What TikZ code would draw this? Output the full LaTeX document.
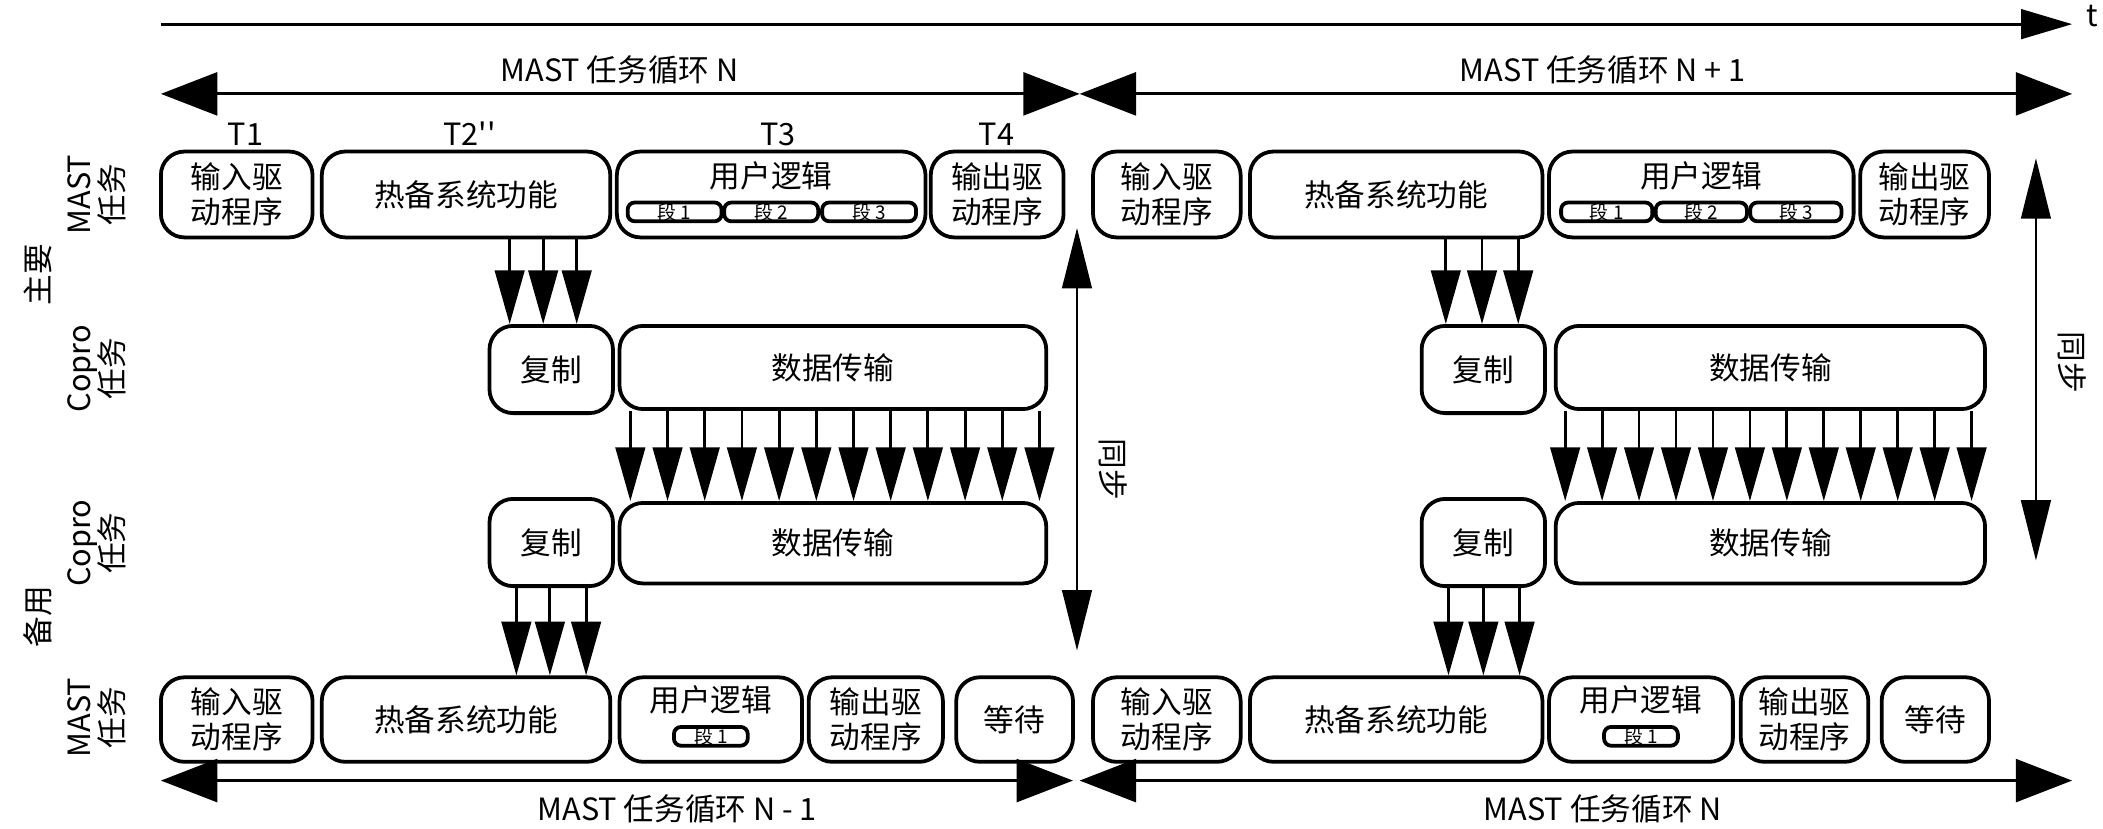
\documentclass[tikz,border=0pt]{standalone}
\usepackage{fontspec}
\setmainfont{Liberation Sans}
\newfontfamily\cjk{Noto Sans CJK SC}
\usetikzlibrary{arrows.meta}

\tikzset{
  box/.style={rectangle, draw=black, thick, rounded corners=5pt, align=center, inner sep=0pt, minimum height=0.64cm},
  seg/.style={rectangle, draw=black, thick, rounded corners=1.5pt, inner sep=0pt, minimum height=0.14cm, font=\fontsize{4}{4}\selectfont\cjk},
  dn/.style={-{Triangle[width=0.22cm,length=0.4cm]}, semithick},
  cyc/.style={{Triangle[width=0.32cm,length=0.42cm]}-{Triangle[width=0.32cm,length=0.42cm]}, semithick},
  sync/.style={{Triangle[width=0.22cm,length=0.45cm]}-{Triangle[width=0.22cm,length=0.45cm]}, semithick},
  side/.style={rotate=90, align=center, font=\fontsize{6.5}{7}\selectfont\cjk},
}

\begin{document}
\begin{tikzpicture}[x=0.01cm, y=-0.01cm, font=\fontsize{6.5}{7.5}\selectfont\cjk]
\useasboundingbox (0,0) rectangle (1568,618);

%%% time axis
\coordinate (t0) at (120,18);
\coordinate (t1) at (1545,18);
\draw [-{Triangle[width=0.22cm,length=0.38cm]}, semithick] (t0) -- (t1);
\node (t-lab) at (1560,12) {\fontsize{6.5}{7}\selectfont t};

%%% cycle arrows top
\coordinate (ctl) at (120,70); \coordinate (ctm) at (805,70); \coordinate (ctr) at (1545,70);
\draw [cyc] (ctl) -- (ctm);
\draw [cyc] (ctm) -- (ctr);
\node (cyc-n) at (462,52) {MAST 任务循环 N};
\node (cyc-n1) at (1195,52) {MAST 任务循环 N + 1};

%%% T labels
\node (lab-t1) at (183,100) {T1};
\node (lab-t2) at (350,100) {T2''};
\node (lab-t3) at (580,100) {T3};
\node (lab-t4) at (743,100) {T4};

%%% side labels
\node [side] (s-mast1) at (72,145) {MAST\\任务};
\node [side] (s-main) at (28,205) {主要};
\node [side] (s-cop1) at (72,275) {Copro\\任务};
\node [side] (s-cop2) at (72,405) {Copro\\任务};
\node [side] (s-back) at (28,460) {备用};
\node [side] (s-mast2) at (72,535) {MAST\\任务};

%%% primary MAST row
\node [box, minimum width=1.13cm] (in1) at (176.5,145) {输入驱\\动程序};
\node [box, minimum width=2.15cm] (hot1) at (347.5,145) {热备系统功能};
\node [box, minimum width=2.30cm] (user1) at (575,145) {};
\node (user1-t) at (575,131) {用户逻辑};
\node [seg, minimum width=0.70cm] (u1s1) at (503,158) {段 1};
\node [seg, minimum width=0.70cm] (u1s2) at (575,158) {段 2};
\node [seg, minimum width=0.70cm] (u1s3) at (648,158) {段 3};
\node [box, minimum width=0.99cm] (out1) at (743.5,145) {输出驱\\动程序};

\node [box, minimum width=1.10cm] (in2) at (870,145) {输入驱\\动程序};
\node [box, minimum width=2.18cm] (hot2) at (1041,145) {热备系统功能};
\node [box, minimum width=2.27cm] (user2) at (1268.5,145) {};
\node (user2-t) at (1268.5,131) {用户逻辑};
\node [seg, minimum width=0.68cm] (u2s1) at (1198,158) {段 1};
\node [seg, minimum width=0.68cm] (u2s2) at (1268.5,158) {段 2};
\node [seg, minimum width=0.68cm] (u2s3) at (1339,158) {段 3};
\node [box, minimum width=0.96cm] (out2) at (1435,145) {输出驱\\动程序};

%%% primary Copro row
\node [box, minimum width=0.92cm, minimum height=0.65cm] (cp1) at (411,275.5) {复制};
\node [box, minimum width=3.18cm, minimum height=0.62cm] (dt1) at (621,274) {数据传输};
\node [box, minimum width=0.92cm, minimum height=0.65cm] (cp2) at (1106,275.5) {复制};
\node [box, minimum width=3.20cm, minimum height=0.62cm] (dt2) at (1320,274) {数据传输};

%%% backup Copro row
\node [box, minimum width=0.92cm, minimum height=0.65cm] (cp3) at (411,404.5) {复制};
\node [box, minimum width=3.18cm, minimum height=0.60cm] (dt3) at (621,405) {数据传输};
\node [box, minimum width=0.92cm, minimum height=0.65cm] (cp4) at (1106,404.5) {复制};
\node [box, minimum width=3.20cm, minimum height=0.60cm] (dt4) at (1320,405) {数据传输};

%%% backup MAST row
\node [box, minimum width=1.13cm, minimum height=0.63cm] (in3) at (176.5,536.5) {输入驱\\动程序};
\node [box, minimum width=2.15cm, minimum height=0.63cm] (hot3) at (347.5,536.5) {热备系统功能};
\node [box, minimum width=1.36cm, minimum height=0.63cm] (user3) at (530,536.5) {};
\node (user3-t) at (530,522) {用户逻辑};
\node [seg, minimum width=0.55cm] (u3s1) at (530,549) {段 1};
\node [box, minimum width=1.00cm, minimum height=0.63cm] (out3) at (653,536.5) {输出驱\\动程序};
\node [box, minimum width=0.87cm, minimum height=0.63cm] (wait3) at (756.5,536.5) {等待};

\node [box, minimum width=1.10cm, minimum height=0.63cm] (in4) at (870,536.5) {输入驱\\动程序};
\node [box, minimum width=2.18cm, minimum height=0.63cm] (hot4) at (1041,536.5) {热备系统功能};
\node [box, minimum width=1.37cm, minimum height=0.63cm] (user4) at (1223.5,536.5) {};
\node (user4-t) at (1223.5,522) {用户逻辑};
\node [seg, minimum width=0.55cm] (u4s1) at (1223.5,549) {段 1};
\node [box, minimum width=0.95cm, minimum height=0.63cm] (out4) at (1345.5,536.5) {输出驱\\动程序};
\node [box, minimum width=0.80cm, minimum height=0.63cm] (wait4) at (1443,536.5) {等待};

%%% cycle arrows bottom
\coordinate (cbl) at (120,582); \coordinate (cbm) at (805,582); \coordinate (cbr) at (1545,582);
\draw [cyc] (cbl) -- (800,582);
\draw [cyc] (cbm) -- (cbr);
\node (cyc-m1) at (505,603) {MAST 任务循环 N - 1};
\node (cyc-m) at (1195,603) {MAST 任务循环 N};

%%% sync arrows
\coordinate (sy1a) at (803,170); \coordinate (sy1b) at (803,485);
\draw [sync] (sy1a) -- (sy1b);
\node [rotate=-90] (sy1-lab) at (830,350) {同步};
\coordinate (sy2a) at (1518,118); \coordinate (sy2b) at (1518,418);
\draw [sync] (sy2a) -- (sy2b);
\node [rotate=-90] (sy2-lab) at (1545,270) {同步};

%%% copy arrows
\foreach \x in {380,405,430}
  \draw [dn] (hot1.south -| \x,0) -- (cp1.north -| \x,0);
\foreach \x in {1078,1105,1132}
  \draw [dn] (hot2.south -| \x,0) -- (cp2.north -| \x,0);
\foreach \x in {385,410,437}
  \draw [dn] (cp3.south -| \x,0) -- (hot3.north -| \x,0);
\foreach \x in {1080,1106,1133}
  \draw [dn] (cp4.south -| \x,0) -- (hot4.north -| \x,0);

%%% data transfer arrows
\foreach \i in {0,...,11}{
  \draw [dn] (dt1.south -| 470+27.73*\i,0) -- (dt3.north -| 470+27.73*\i,0);
  \draw [dn] (dt2.south -| 1167+27.55*\i,0) -- (dt4.north -| 1167+27.55*\i,0);
}

\end{tikzpicture}
\end{document}
